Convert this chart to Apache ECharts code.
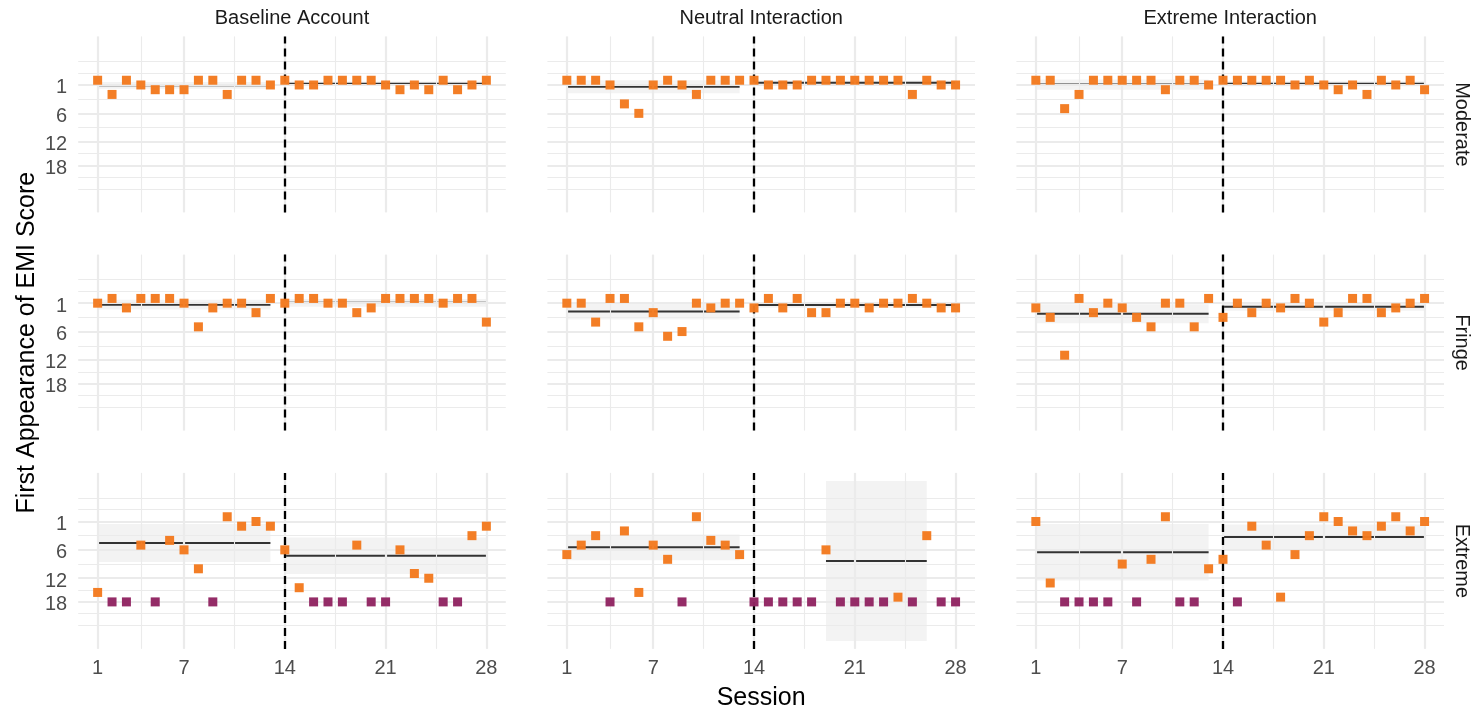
<!DOCTYPE html>
<html>
<head>
<meta charset="utf-8">
<script src="https://cdn.jsdelivr.net/npm/echarts@6/dist/echarts.min.js"></script>
<style>
html,body{margin:0;padding:0;background:#ffffff;}
#chart{width:1482px;height:712px;}
</style>
</head>
<body>
<div id="chart"></div>
<script>
// ---------------- data ----------------
const sessions = [1,2,3,4,5,6,7,8,9,10,11,12,13,14,15,16,17,18,19,20,21,22,23,24,25,26,27,28];
const accountTypes = ['Baseline Account', 'Neutral Interaction', 'Extreme Interaction'];
const emiLevels = ['Moderate', 'Fringe', 'Extreme'];
const xTickValues = [1, 7, 14, 21, 28];
const yTickValues = [1, 7, 13, 18];
const yTickLabels = ['1', '6', '12', '18'];
const phaseBreakSession = 14;
const notFoundValue = 18;
const xTitle = 'Session';
const yTitle = 'First Appearance of EMI Score';

// first appearance per session (null = EMI score did not appear)
const moderateBaseline = [0,3,0,1,2,2,2,0,0,3,0,0,1, 0,1,1,0,0,0,0,1,2,1,2,0,2,1,0];
const moderateNeutral  = [0,0,0,1,5,7,1,0,1,3,0,0,0, 0,1,1,1,0,0,0,0,0,0,0,3,0,1,1];
const moderateExtreme  = [0,0,6,3,0,0,0,0,0,2,0,0,1, 0,0,0,0,0,1,0,1,2,1,3,0,1,0,2];

const fringeBaseline = [1,0,2,0,0,0,1,6,2,1,1,3,0, 1,0,0,1,1,3,2,0,0,0,0,1,0,0,5];
const fringeNeutral  = [1,1,5,0,0,6,3,8,7,1,2,1,1, 2,0,2,0,3,3,1,1,2,1,1,0,1,2,2];
const fringeExtreme  = [2,4,12,0,3,1,2,4,6,1,1,6,0, 4,1,3,1,2,0,1,5,3,0,0,3,2,1,0];

const extremeBaseline = [16,null,null,6,null,5,7,11,null,0,2,1,2, 7,15,null,null,null,6,null,null,7,12,13,null,null,4,2];
const extremeNeutral  = [8,6,4,null,3,16,6,9,null,0,5,6,8, null,null,null,null,null,7,null,null,null,null,17,null,4,null,null];
const extremeExtreme  = [1,14,null,null,null,null,10,null,9,0,null,null,11, 9,null,2,6,17,8,4,0,1,3,4,2,0,3,1];

// two-sided 95% t critical values by degrees of freedom
const tCrit975 = {1:12.706,2:4.303,3:3.182,4:2.776,5:2.571,6:2.447,7:2.365,8:2.306,9:2.262,10:2.228,11:2.201,12:2.179,13:2.160,14:2.145,15:2.131};

// ---------------- layout & style ----------------
const panelRows = [
  [moderateBaseline, moderateNeutral, moderateExtreme],
  [fringeBaseline, fringeNeutral, fringeExtreme],
  [extremeBaseline, extremeNeutral, extremeExtreme]
];
const LEFTS = [78.2, 547.4, 1016.4];
const PANEL_W = 427.6;
const TOPS = [36.4, 254.6, 472.9];
const PANEL_H = 176;
const FONT = '"Liberation Sans", Arial, sans-serif';
const ORANGE = '#F37A1F';
const PURPLE = '#912562';
const GRID_COLOR = '#EBEBEB';

// ---------------- stats (constant lm fit per phase, 95% CI) ----------------
function phaseFit(values, lo, hi) {
  const pts = [];
  sessions.forEach((s, i) => {
    if (s >= lo && s <= hi && values[i] !== null) pts.push([s, values[i]]);
  });
  const n = pts.length;
  const mean = pts.reduce((a, p) => a + p[1], 0) / n;
  const ss = pts.reduce((a, p) => a + (p[1] - mean) * (p[1] - mean), 0);
  const se = n > 1 ? Math.sqrt(ss / (n - 1)) / Math.sqrt(n) : 0;
  const half = n > 1 ? tCrit975[n - 1] * se : 0;
  return { x0: pts[0][0], x1: pts[n - 1][0], mean: mean, lower: mean - half, upper: mean + half };
}

const fits = panelRows.map(row => row.map(vals => [
  phaseFit(vals, 1, phaseBreakSession - 1),
  phaseFit(vals, phaseBreakSession, 28)
]));

// y limits: all plotted values + ribbons, expanded 5%
let yLo = Infinity, yHi = -Infinity;
panelRows.forEach((row, r) => row.forEach((vals, c) => {
  vals.forEach(v => { const y = v === null ? notFoundValue : v; yLo = Math.min(yLo, y); yHi = Math.max(yHi, y); });
  fits[r][c].forEach(f => { yLo = Math.min(yLo, f.lower); yHi = Math.max(yHi, f.upper); });
}));
const yPad = (yHi - yLo) * 0.05;
const Y_MIN = yLo - yPad, Y_MAX = yHi + yPad;
const xPad = (sessions[sessions.length - 1] - sessions[0]) * 0.05;
const X_MIN = sessions[0] - xPad, X_MAX = sessions[sessions.length - 1] + xPad;

// minor breaks like ggplot (midpoints, one extra step outside the majors)
function minorBreaks(majors, lo, hi, stepFromEnd) {
  const b = majors.slice();
  const step = stepFromEnd ? (b[b.length - 1] - b[b.length - 2]) : (b[1] - b[0]);
  const ext = [];
  if (lo < b[0]) ext.push(b[0] - step);
  ext.push(...b);
  if (hi > b[b.length - 1]) ext.push(b[b.length - 1] + step);
  const out = [];
  for (let i = 0; i < ext.length; i++) {
    if (ext[i] < majors[0] || ext[i] > majors[majors.length - 1]) out.push(ext[i]);
    if (i < ext.length - 1) out.push((ext[i] + ext[i + 1]) / 2);
  }
  return out.filter(v => v >= lo && v <= hi);
}
const yMinor = minorBreaks(yTickValues, Y_MIN, Y_MAX, true);
const xMinor = minorBreaks(xTickValues, X_MIN, X_MAX, false);

// ---------------- build option ----------------
const grids = [], xAxes = [], yAxes = [], series = [], graphics = [];

panelRows.forEach((row, r) => row.forEach((vals, c) => {
  const k = r * 3 + c;
  grids.push({ left: LEFTS[c], top: TOPS[r], width: PANEL_W, height: PANEL_H, containLabel: false });
  xAxes.push({
    gridIndex: k, type: 'value', min: X_MIN, max: X_MAX,
    axisLine: { show: false }, axisTick: { show: false }, splitLine: { show: false },
    axisLabel: {
      show: r === 2, customValues: xTickValues, fontSize: 20, color: '#4D4D4D',
      fontFamily: FONT, margin: 10,
      formatter: v => (xTickValues.indexOf(v) >= 0 ? String(v) : '')
    }
  });
  yAxes.push({
    gridIndex: k, type: 'value', inverse: true, min: Y_MIN, max: Y_MAX,
    axisLine: { show: false }, axisTick: { show: false }, splitLine: { show: false },
    axisLabel: {
      show: c === 0, customValues: yTickValues, fontSize: 20, color: '#4D4D4D',
      fontFamily: FONT, margin: 11,
      rich: { t: { fontSize: 20, color: '#4D4D4D', fontFamily: FONT, padding: [6, 0, 0, 0] } },
      formatter: v => { const i = yTickValues.indexOf(v); return i >= 0 ? '{t|' + yTickLabels[i] + '}' : ''; }
    }
  });

  const gridLines = [];
  yMinor.forEach(v => gridLines.push({ yAxis: v, lineStyle: { color: GRID_COLOR, width: 1.1, type: 'solid' } }));
  xMinor.forEach(v => gridLines.push({ xAxis: v, lineStyle: { color: GRID_COLOR, width: 1.1, type: 'solid' } }));
  yTickValues.forEach(v => gridLines.push({ yAxis: v, lineStyle: { color: GRID_COLOR, width: 2.2, type: 'solid' } }));
  xTickValues.forEach(v => gridLines.push({ xAxis: v, lineStyle: { color: GRID_COLOR, width: 2.2, type: 'solid' } }));
  series.push({
    type: 'line', xAxisIndex: k, yAxisIndex: k, data: [], silent: true, z: 1, animation: false,
    markLine: { silent: true, animation: false, symbol: ['none', 'none'], label: { show: false },
      emphasis: { disabled: true }, data: gridLines }
  });

  // ribbons
  series.push({
    type: 'line', xAxisIndex: k, yAxisIndex: k, data: [], silent: true, z: 2, animation: false,
    markArea: { silent: true, animation: false, itemStyle: { color: 'rgba(153,153,153,0.12)' },
      label: { show: false }, emphasis: { disabled: true },
      data: fits[r][c].map(f => [{ xAxis: f.x0, yAxis: f.upper }, { xAxis: f.x1, yAxis: f.lower }]) }
  });

  // phase boundary
  series.push({
    type: 'line', xAxisIndex: k, yAxisIndex: k, data: [], silent: true, z: 3, animation: false,
    markLine: { silent: true, animation: false, symbol: ['none', 'none'], label: { show: false },
      emphasis: { disabled: true },
      lineStyle: { color: '#000000', width: 2.3, type: [8, 5] },
      data: [[{ coord: [phaseBreakSession, Y_MAX] }, { coord: [phaseBreakSession, Y_MIN] }]] }
  });

  // mean lines
  fits[r][c].forEach(f => {
    series.push({
      type: 'line', xAxisIndex: k, yAxisIndex: k, z: 4, silent: true, animation: false,
      showSymbol: false, symbol: 'none',
      lineStyle: { color: '#333333', width: 2 },
      data: [[f.x0, f.mean], [f.x1, f.mean]]
    });
  });

  // points
  const found = [], missing = [];
  sessions.forEach((s, i) => {
    if (vals[i] === null) missing.push([s, notFoundValue]); else found.push([s, vals[i]]);
  });
  series.push({
    type: 'scatter', xAxisIndex: k, yAxisIndex: k, z: 5, animation: false,
    symbol: 'rect', symbolSize: 9, itemStyle: { color: PURPLE, opacity: 0.97 }, data: missing
  });
  series.push({
    type: 'scatter', xAxisIndex: k, yAxisIndex: k, z: 6, animation: false,
    symbol: 'rect', symbolSize: 9, itemStyle: { color: ORANGE, opacity: 0.97 }, data: found
  });
}));

// strip labels
accountTypes.forEach((t, c) => {
  graphics.push({ type: 'text', x: LEFTS[c] + PANEL_W / 2, y: 18,
    style: { text: t, fontSize: 20, fontFamily: FONT, fill: '#1A1A1A',
      align: 'center', verticalAlign: 'middle', textAlign: 'center', textVerticalAlign: 'middle' } });
});
emiLevels.forEach((t, r) => {
  graphics.push({ type: 'text', x: 1462, y: TOPS[r] + PANEL_H / 2, rotation: -Math.PI / 2,
    style: { text: t, fontSize: 20, fontFamily: FONT, fill: '#1A1A1A',
      align: 'center', verticalAlign: 'middle', textAlign: 'center', textVerticalAlign: 'middle' } });
});
// axis titles
graphics.push({ type: 'text', x: (LEFTS[0] + LEFTS[2] + PANEL_W) / 2, y: 698,
  style: { text: xTitle, fontSize: 25, fontFamily: FONT, fill: '#000000',
    align: 'center', verticalAlign: 'middle', textAlign: 'center', textVerticalAlign: 'middle' } });
graphics.push({ type: 'text', x: 27, y: (TOPS[0] + TOPS[2] + PANEL_H) / 2, rotation: Math.PI / 2,
  style: { text: yTitle, fontSize: 25, fontFamily: FONT, fill: '#000000',
    align: 'center', verticalAlign: 'middle', textAlign: 'center', textVerticalAlign: 'middle' } });

const chart = echarts.init(document.getElementById('chart'), null, { renderer: 'canvas' });
chart.setOption({
  backgroundColor: '#ffffff',
  animation: false,
  grid: grids,
  xAxis: xAxes,
  yAxis: yAxes,
  series: series,
  graphic: graphics
});
</script>
</body>
</html>
